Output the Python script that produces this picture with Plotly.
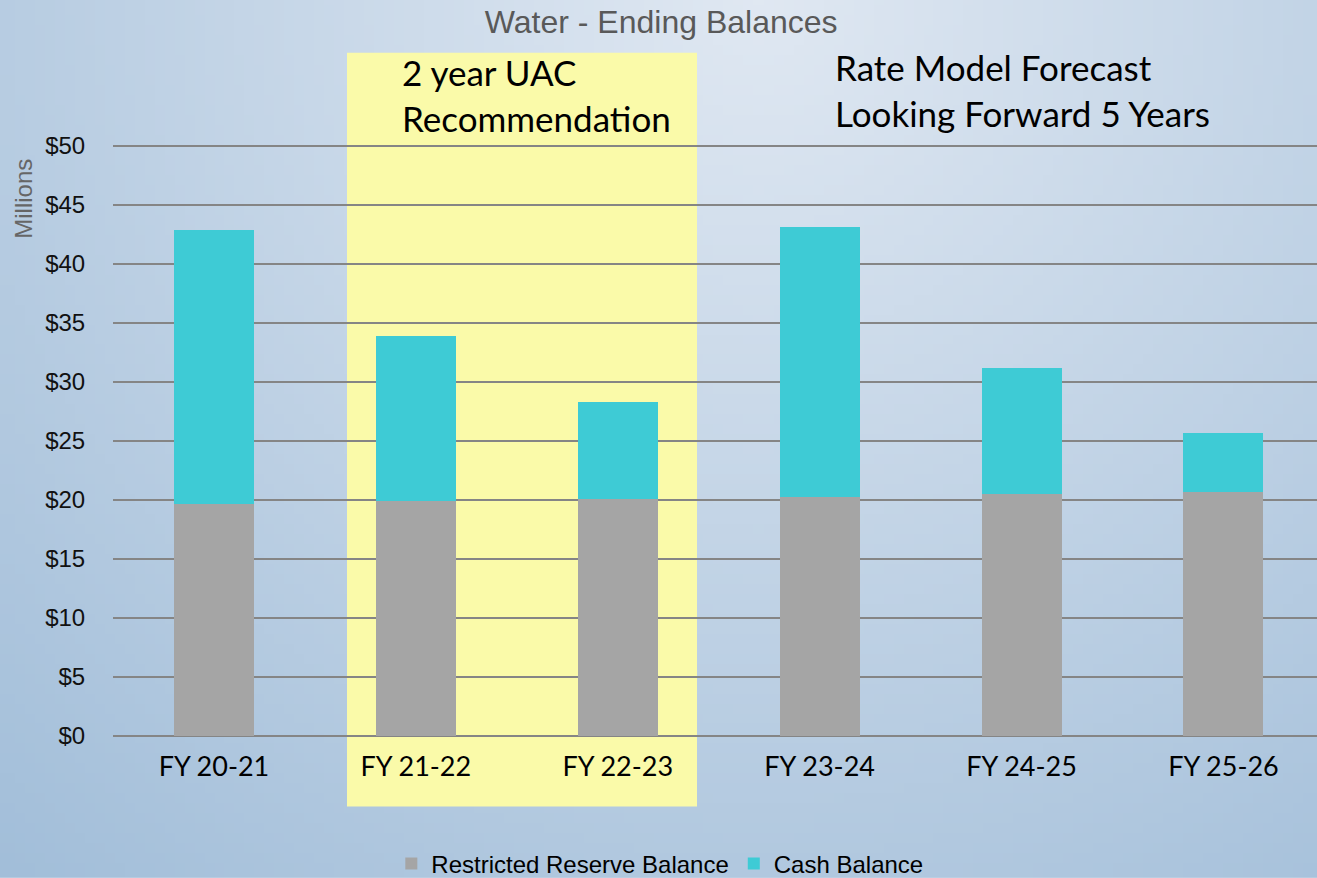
import base64, struct, zlib, math
import plotly.graph_objects as go

categories = ["FY 20-21", "FY 21-22", "FY 22-23", "FY 23-24", "FY 24-25", "FY 25-26"]
restricted_reserve = [19.66, 19.88, 20.08, 20.22, 20.47, 20.64]
cash_balance = [23.20, 13.97, 8.24, 22.89, 10.73, 5.03]
y_ticks = [0, 5, 10, 15, 20, 25, 30, 35, 40, 45, 50]
y_tick_labels = ["$" + str(v) for v in y_ticks]

W_PX, H_PX = 1317, 878
Y_TOP = 50.4
UNIT = 11.81
L, R, B = 113, 0, 141.5
T = H_PX - B - Y_TOP * UNIT
PW = W_PX - L - R
PH = H_PX - T - B


def gradient_png(w=132, h=88):
    light = (224, 232, 242)
    dark = (162, 190, 217)
    raw = bytearray()
    for j in range(h):
        raw.append(0)
        y = (j + 0.5) / h * H_PX
        for i in range(w):
            x = (i + 0.5) / w * W_PX
            d = math.hypot(x - 760, y)
            t = min(d / 1150.0, 1.0)
            for k in range(3):
                raw.append(int(round(light[k] + (dark[k] - light[k]) * t)))

    def chunk(tag, data):
        return struct.pack(">I", len(data)) + tag + data + struct.pack(">I", zlib.crc32(tag + data) & 0xFFFFFFFF)

    png = b"\x89PNG\r\n\x1a\n" + chunk(b"IHDR", struct.pack(">IIBBBBB", w, h, 8, 2, 0, 0, 0)) \
        + chunk(b"IDAT", zlib.compress(bytes(raw), 9)) + chunk(b"IEND", b"")
    return "data:image/png;base64," + base64.b64encode(png).decode()


def px_x(x):
    return (x - L) / PW


def px_y(y):
    return (H_PX - B - y) / PH


fig = go.Figure()
fig.add_trace(go.Bar(x=categories, y=restricted_reserve, name="Restricted Reserve Balance",
                     marker=dict(color="#a5a5a5", line=dict(width=0))))
fig.add_trace(go.Bar(x=categories, y=cash_balance, name="Cash Balance",
                     marker=dict(color="#3ecbd5", line=dict(width=0))))

fig.update_layout(
    width=W_PX, height=H_PX,
    barmode="stack", bargap=0.604,
    margin=dict(l=L, r=R, t=T, b=B),
    paper_bgcolor="#c3d4e5", plot_bgcolor="rgba(0,0,0,0)",
    font=dict(family="Arial, Liberation Sans, sans-serif", color="#000000"),
    title=dict(text="Water - Ending Balances", x=0.502, xanchor="center", xref="container",
               y=1 - 22 / H_PX, yanchor="middle", yref="container",
               font=dict(size=32, color="#595959", family="Arial, Liberation Sans, sans-serif")),
    legend=dict(orientation="h", xref="container", yref="container", x=0.501, xanchor="center",
                y=1 - 864 / H_PX, yanchor="middle", font=dict(size=24, color="#000000"),
                bgcolor="rgba(0,0,0,0)", itemwidth=30, traceorder="normal"),
    xaxis=dict(range=[-0.5, -0.5 + PW / 201.9], showgrid=False, zeroline=False, showline=False,
               ticks="outside", ticklen=7, tickcolor="rgba(0,0,0,0)",
               tickfont=dict(family="Lato, Open Sans, sans-serif", size=27, color="#000000"), fixedrange=True),
    yaxis=dict(range=[0, Y_TOP], tickvals=y_ticks, ticktext=y_tick_labels, showgrid=True,
               gridcolor="#858585", gridwidth=2, zeroline=True, zerolinecolor="#858585", zerolinewidth=2,
               showline=False, ticks="outside", ticklen=22, tickcolor="rgba(0,0,0,0)",
               tickfont=dict(size=24, color="#111111")),
    images=[dict(source=gradient_png(), xref="paper", yref="paper", x=px_x(0), y=px_y(0),
                 sizex=W_PX / PW, sizey=H_PX / PH, sizing="stretch", xanchor="left", yanchor="top",
                 layer="below")],
    shapes=[dict(type="rect", xref="paper", yref="paper", x0=px_x(347), x1=px_x(697),
                 y0=px_y(807), y1=px_y(53), fillcolor="#fafaa9", line=dict(width=0), layer="below")],
    annotations=[
        dict(text="Millions", textangle=-90, xref="paper", yref="paper", x=px_x(24), y=px_y(199),
             xanchor="center", yanchor="middle", showarrow=False, font=dict(size=24, color="#666666")),
        dict(text="2 year UAC<br>Recommendation", xref="paper", yref="paper", x=px_x(400), y=px_y(95),
             xanchor="left", yanchor="middle", align="left", showarrow=False,
             font=dict(family="Lato, Open Sans, sans-serif", size=35, color="#000000")),
        dict(text="Rate Model Forecast<br>Looking Forward 5 Years", xref="paper", yref="paper",
             x=px_x(833), y=px_y(90), xanchor="left", yanchor="middle", align="left", showarrow=False,
             font=dict(family="Lato, Open Sans, sans-serif", size=35, color="#000000")),
    ],
)

fig.write_html("out.html", config={"displayModeBar": False},
               post_script="document.body.style.margin='0';document.body.style.overflow='hidden';")
